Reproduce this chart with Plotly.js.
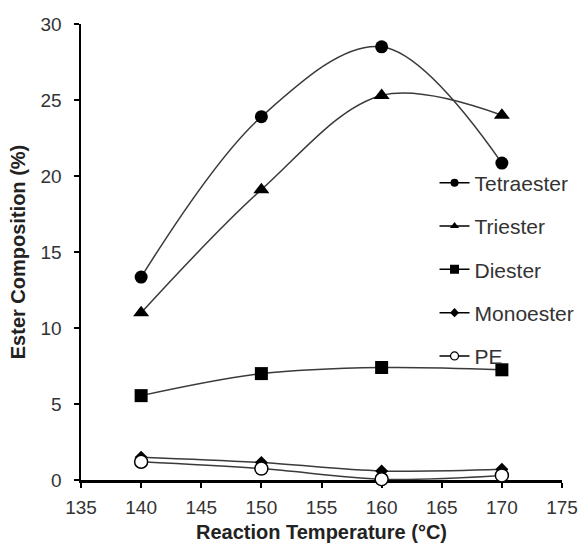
<!DOCTYPE html>
<html>
<head>
<meta charset="utf-8">
<script src="https://cdn.plot.ly/plotly-3.0.1.min.js"></script>
<style>html,body{margin:0;padding:0;background:#fff}#chart{width:582px;height:550px}</style>
</head>
<body>
<div id="chart"></div>
<script>
var temperature = [140, 150, 160, 170];
var tetraester = [13.35, 23.9, 28.5, 20.85];
var triester = [11.0, 19.1, 25.3, 24.0];
var diester = [5.55, 7.0, 7.4, 7.25];
var monoester = [1.5, 1.15, 0.6, 0.7];
var pe = [1.2, 0.75, 0.05, 0.3];
var seriesNames = ["Tetraester", "Triester", "Diester", "Monoester", "PE"];
var xTicks = [135, 140, 145, 150, 155, 160, 165, 170, 175];
var yTicks = [0, 5, 10, 15, 20, 25, 30];

var seriesData = [tetraester, triester, diester, monoester, pe];
var symbols = ["circle", "triangle-up", "square", "diamond", "circle-open"];
var sizes = [13, 14, 13, 10, 13];
var legendSizes = [8, 8, 9, 7, 8];

var traces = [];
for (var i = 0; i < seriesData.length; i++) {
  var isOpen = symbols[i] === "circle-open";
  traces.push({
    x: temperature, y: seriesData[i], type: "scatter", mode: "lines+markers",
    name: seriesNames[i], showlegend: false, cliponaxis: false,
    line: {color: "#3a3a3a", width: 1.5, shape: "spline", smoothing: 1},
    marker: {symbol: isOpen ? "circle" : symbols[i], size: sizes[i],
             color: isOpen ? "#ffffff" : "#000000",
             line: {color: "#000000", width: isOpen ? 1.5 : 0}}
  });
}
for (var j = 0; j < seriesData.length; j++) {
  var open2 = symbols[j] === "circle-open";
  traces.push({
    x: [null], y: [null], type: "scatter", mode: "lines+markers",
    name: seriesNames[j], legendgroup: "g" + j, showlegend: true,
    line: {color: "#000000", width: 1.5},
    marker: {symbol: open2 ? "circle" : symbols[j], size: legendSizes[j],
             color: open2 ? "#ffffff" : "#000000",
             line: {color: "#000000", width: open2 ? 1.2 : 0}}
  });
}

var layout = {
  width: 582, height: 550,
  margin: {l: 81, r: 20, t: 24, b: 70, autoexpand: false},
  paper_bgcolor: "#ffffff", plot_bgcolor: "#ffffff",
  font: {family: "Liberation Sans, Arial, sans-serif", color: "#222"},
  xaxis: {
    range: [135, 175], tickvals: xTicks, ticktext: xTicks.map(String),
    showgrid: false, zeroline: false, showline: true, linecolor: "#000", linewidth: 2.5,
    ticks: "outside", ticklen: 5, tickwidth: 2, tickcolor: "#000",
    ticklabelstandoff: 4, layer: "below traces",
    tickfont: {size: 19, color: "#333"},
    title: {text: "<b>Reaction Temperature (°C)</b>", font: {size: 20, color: "#222"}, standoff: 8}
  },
  yaxis: {
    range: [0, 30], tickvals: yTicks, ticktext: yTicks.map(String),
    showgrid: false, zeroline: false, showline: true, linecolor: "#000", linewidth: 2.5,
    ticks: "outside", ticklen: 5, tickwidth: 2, tickcolor: "#000",
    ticklabelstandoff: 8, layer: "below traces",
    tickfont: {size: 19, color: "#333"},
    title: {text: "<b>Ester Composition (%)</b>", font: {size: 20, color: "#222"}, standoff: 10}
  },
  legend: {
    x: 0.735, y: 0.696, xanchor: "left", yanchor: "top",
    bgcolor: "rgba(0,0,0,0)", borderwidth: 0,
    font: {size: 21, color: "#333"}, tracegroupgap: 13, itemclick: false
  },
  showlegend: true
};

Plotly.newPlot("chart", traces, layout, {displayModeBar: false, staticPlot: true});
</script>
</body>
</html>
